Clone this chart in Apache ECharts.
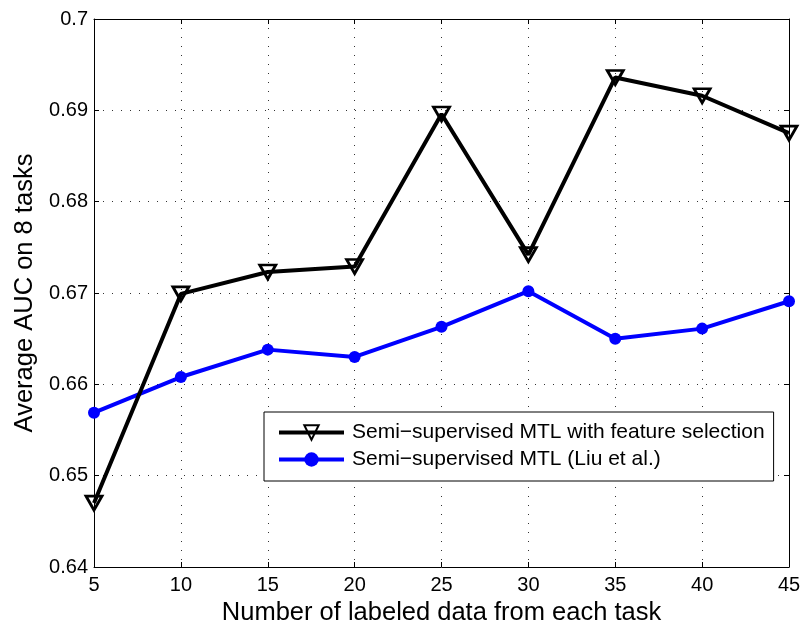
<!DOCTYPE html>
<html>
<head>
<meta charset="utf-8">
<script src="https://cdn.jsdelivr.net/npm/echarts@6/dist/echarts.min.js"></script>
<style>html,body{margin:0;padding:0;background:#fff}#c{width:800px;height:625px}</style>
</head>
<body>
<div id="c"></div>
<script>
const xValues = [5, 10, 15, 20, 25, 30, 35, 40, 45];
const fsValues = [0.6470, 0.6699, 0.6723, 0.6729, 0.6896, 0.6742, 0.6936, 0.6916, 0.6875];
const liuValues = [0.6569, 0.6608, 0.6638, 0.6630, 0.6663, 0.6702, 0.6650, 0.6661, 0.6691];
const seriesNames = ['Semi\u2212supervised MTL with feature selection', 'Semi\u2212supervised MTL (Liu et al.)'];
const xTitle = 'Number of labeled data from each task';
const yTitle = 'Average AUC on 8 tasks';

const font = 'Liberation Sans, Arial, Helvetica, sans-serif';
const chart = echarts.init(document.getElementById('c'), null, {renderer: 'canvas'});
const pair = (xs, ys) => xs.map((x, i) => [x, ys[i]]);
const gridLine = {show: true, lineStyle: {type: [1, 8], color: '#333', width: 1}};
const tickIn = {show: true, inside: true, length: 5, lineStyle: {color: '#000', width: 1}};
const yFmt = v => parseFloat(v.toFixed(2)).toString();

chart.setOption({
  backgroundColor: '#fff',
  animation: false,
  textStyle: {fontFamily: font, color: '#000'},
  grid: {left: 94, right: 11, top: 19, bottom: 58, containLabel: false, outerBoundsMode: 'none'},
  legend: {
    orient: 'vertical',
    left: 264, top: 412,
    padding: [10, 9, 11, 13],
    itemGap: 6,
    itemWidth: 65,
    itemHeight: 18,
    backgroundColor: '#fff',
    borderColor: '#000',
    borderWidth: 1,
    borderRadius: 0,
    lineStyle: {width: 4},
    textStyle: {fontFamily: font, fontSize: 21, color: '#000', padding: [0, 0, 0, 3]},
    data: seriesNames
  },
  xAxis: [{
    type: 'value', min: 5, max: 45, interval: 5,
    name: xTitle, nameLocation: 'middle', nameGap: 29,
    nameTextStyle: {fontFamily: font, fontSize: 25.5, color: '#000'},
    axisLine: {show: true, onZero: false, lineStyle: {color: '#000', width: 1}},
    axisTick: tickIn,
    axisLabel: {fontFamily: font, fontSize: 20, color: '#000', margin: 8},
    splitLine: gridLine
  }, {
    type: 'value', min: 5, max: 45, interval: 5, position: 'top',
    axisLine: {show: true, onZero: false, lineStyle: {color: '#000', width: 1}},
    axisTick: tickIn, axisLabel: {show: false}, splitLine: {show: false}
  }],
  yAxis: [{
    type: 'value', min: 0.64, max: 0.70, interval: 0.01,
    name: yTitle, nameLocation: 'middle', nameGap: 55,
    nameTextStyle: {fontFamily: font, fontSize: 25.5, color: '#000'},
    axisLine: {show: true, onZero: false, lineStyle: {color: '#000', width: 1}},
    axisTick: tickIn,
    axisLabel: {fontFamily: font, fontSize: 20, color: '#000', margin: 6, formatter: yFmt},
    splitLine: gridLine
  }, {
    type: 'value', min: 0.64, max: 0.70, interval: 0.01, position: 'right',
    axisLine: {show: true, onZero: false, lineStyle: {color: '#000', width: 1}},
    axisTick: tickIn, axisLabel: {show: false}, splitLine: {show: false}
  }],
  series: [{
    name: seriesNames[0],
    type: 'line',
    data: pair(xValues, fsValues),
    symbol: 'triangle',
    symbolRotate: 180,
    symbolSize: [16, 14],
    lineStyle: {color: '#000', width: 4},
    itemStyle: {color: 'rgba(0,0,0,0)', borderColor: '#000', borderWidth: 2.8},
    z: 3
  }, {
    name: seriesNames[1],
    type: 'line',
    data: pair(xValues, liuValues),
    symbol: 'circle',
    symbolSize: 12,
    lineStyle: {color: '#0000ff', width: 4},
    itemStyle: {color: '#0000ff', borderWidth: 0},
    z: 2
  }]
});
</script>
</body>
</html>
